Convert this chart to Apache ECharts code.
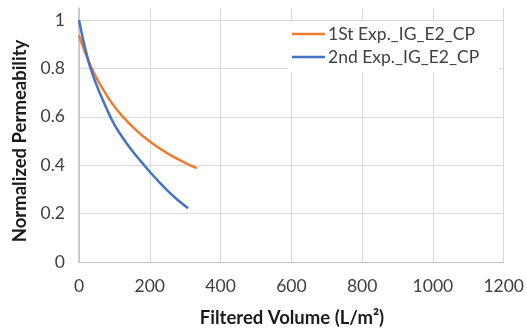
<!DOCTYPE html>
<html>
<head>
<meta charset="utf-8">
<script src="https://cdn.jsdelivr.net/npm/echarts@6/dist/echarts.min.js"></script>
<style>
  html, body { margin: 0; padding: 0; background: #ffffff; }
  #chart { width: 527px; height: 333px; }
</style>
</head>
<body>
<div id="chart"></div>
<script>
// Filtered volume (L/m²) vs normalized permeability, two experiments
const seriesNames = ['1St Exp._IG_E2_CP', '2nd Exp._IG_E2_CP'];

const exp1Volume = [0, 10, 20, 37, 60, 90, 120, 162, 200, 250, 300, 333];
const exp1Perm   = [0.937, 0.895, 0.856, 0.798, 0.733, 0.663, 0.607, 0.544, 0.498, 0.449, 0.410, 0.388];

const exp2Volume = [0, 10, 20, 31, 50, 70, 87, 100, 115, 135, 153, 183, 200, 230, 256, 280, 308];
const exp2Perm   = [1.0, 0.93, 0.868, 0.808, 0.73, 0.66, 0.605, 0.568, 0.532, 0.49, 0.455, 0.402, 0.373, 0.325, 0.287, 0.255, 0.222];

const xTicks = { min: 0, max: 1200, interval: 200 };
const yTicks = { min: 0, max: 1.05, interval: 0.2 };

const colors = ['#ED7D31', '#4472C4'];
const FONT = 'Lato';

function pairs(xs, ys) { return xs.map((x, i) => [x, ys[i]]); }

const chart = echarts.init(document.getElementById('chart'), null, { renderer: 'canvas' });

chart.setOption({
  animation: false,
  backgroundColor: '#ffffff',
  textStyle: { fontFamily: FONT },
  grid: { left: 79, right: 22, top: 8, bottom: 71, containLabel: false },
  legend: {
    data: seriesNames,
    orient: 'vertical',
    left: 288,
    top: 21,
    padding: [3, 20, 5, 4],
    backgroundColor: '#ffffff',
    itemGap: 3,
    itemWidth: 33,
    itemHeight: 2.5,
    icon: 'rect',
    z: 10,
    textStyle: { fontFamily: FONT, fontSize: 17.5, color: '#404040', lineHeight: 20, padding: [0, 0, 0, -2] }
  },
  xAxis: {
    type: 'value',
    min: xTicks.min, max: xTicks.max, interval: xTicks.interval,
    axisLine: { show: true, lineStyle: { color: '#BFBFBF', width: 1 } },
    axisTick: { show: false },
    axisLabel: { fontFamily: FONT, fontSize: 17.5, color: '#404040', margin: 15, formatter: v => String(v) },
    splitLine: { show: true, lineStyle: { color: '#D9D9D9', width: 1 } }
  },
  yAxis: {
    type: 'value',
    min: yTicks.min, max: yTicks.max, interval: yTicks.interval,
    axisLine: { show: true, lineStyle: { color: '#BFBFBF', width: 1.5 } },
    axisTick: { show: false },
    axisLabel: {
      fontFamily: FONT, fontSize: 17.5, color: '#404040', margin: 14,
      showMaxLabel: false,
      formatter: v => (Math.abs(v - Math.round(v)) < 1e-9 ? String(Math.round(v)) : String(+v.toFixed(1)))
    },
    splitLine: { show: true, showMaxLine: false, lineStyle: { color: '#D9D9D9', width: 1 } }
  },
  graphic: [
    {
      type: 'text',
      x: 292, y: 318,
      style: { text: 'Filtered Volume (L/m²)', font: 'bold 18.5px ' + FONT, fill: '#1a1a1a', textAlign: 'center', textVerticalAlign: 'middle' }
    },
    {
      type: 'text',
      x: 20, y: 141,
      rotation: Math.PI / 2,
      style: { text: 'Normalized Permeability', font: 'bold 18.5px ' + FONT, fill: '#1a1a1a', textAlign: 'center', textVerticalAlign: 'middle' }
    }
  ],
  series: [
    {
      name: seriesNames[0], type: 'line', data: pairs(exp1Volume, exp1Perm),
      smooth: 0.3, showSymbol: false, symbol: 'none',
      lineStyle: { color: colors[0], width: 2.5 }, itemStyle: { color: colors[0] }
    },
    {
      name: seriesNames[1], type: 'line', data: pairs(exp2Volume, exp2Perm),
      smooth: 0.3, showSymbol: false, symbol: 'none',
      lineStyle: { color: colors[1], width: 2.5 }, itemStyle: { color: colors[1] }
    }
  ]
});
</script>
</body>
</html>
